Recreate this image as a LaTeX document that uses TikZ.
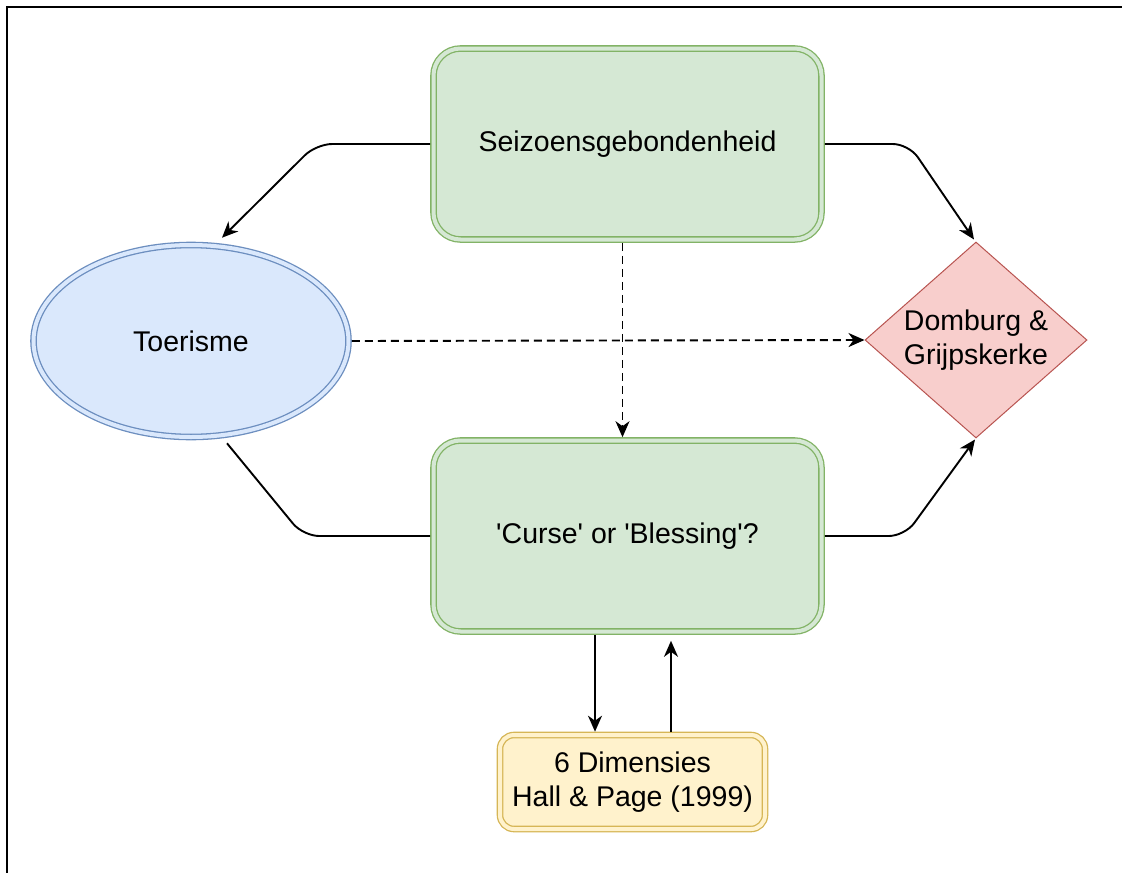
\documentclass[tikz,border=0pt]{standalone}
\usepackage{fontspec}
\setmainfont{Liberation Sans}[Ligatures=TeXOff]
\usetikzlibrary{shapes.geometric,arrows.meta}
\definecolor{gfill}{HTML}{D5E8D4}
\definecolor{gline}{HTML}{82B366}
\definecolor{bfill}{HTML}{DAE8FC}
\definecolor{bline}{HTML}{6C8EBF}
\definecolor{rfill}{HTML}{F8CECC}
\definecolor{rline}{HTML}{B85450}
\definecolor{yfill}{HTML}{FFF2CC}
\definecolor{yline}{HTML}{D6B656}
\begin{document}
\begin{tikzpicture}[x=1pt,y=-1pt,
  every node/.style={font=\fontsize{28.5}{34}\selectfont, inner sep=0pt},
  dbl/.style={line width=1.3pt, double distance=4pt, outer sep=3.3pt},
  greenbox/.style={dbl, draw=gline, double=gfill, fill=gfill, rounded corners=27pt, minimum width=388pt, minimum height=191pt},
  blueell/.style={dbl, ellipse, draw=bline, double=bfill, fill=bfill, minimum width=315pt, minimum height=192pt},
  yellowbox/.style={dbl, draw=yline, double=yfill, fill=yfill, rounded corners=14pt, minimum width=265pt, minimum height=94pt, align=center},
  diam/.style={diamond, draw=rline, fill=rfill, line width=1pt, minimum width=222pt, minimum height=196pt},
  conn/.style={line width=1.9pt, black, rounded corners=16pt},
  arr/.style={conn, -{Stealth[length=16pt,width=14pt,inset=5pt]}},
  dsh/.style={arr, dash pattern=on 8pt off 5pt}
]
\useasboundingbox (0,0) rectangle (1122,873);
\fill[white] (0,0) rectangle (1122,873);
\draw[line width=2.2pt] (1122,7) -- (7,7) -- (7,873);

\node[greenbox] (seiz) at (627.5,144) {Seizoensgebondenheid};
\node[greenbox] (curse) at (627.5,536) {'Curse' or 'Blessing'?};
\node[blueell] (toer) at (191,341) {Toerisme};
\node[diam] (dom) at (976,340) {};
\node[align=center] (domtxt) at (dom.center) {Domburg \&\\Grijpskerke};
\node[yellowbox] (dim) at (632.5,782) {6 Dimensies\\Hall \& Page (1999)};

\draw[arr] (seiz.west) -- ++(-114,0) -- ([xshift=31pt,yshift=4pt]toer.north);
\draw[arr] (seiz.east) -- ++(84,0) -- ([xshift=-2pt,yshift=2pt]dom.north);
\draw[arr] (curse.east) -- ++(80,0) -- ([xshift=-1pt,yshift=-1pt]dom.south);
\draw[conn] ([xshift=36pt,yshift=-3pt]toer.south) -- ([xshift=-127pt]curse.west) -- (curse.west);
\draw[dsh] ([xshift=-5pt]seiz.south) -- ([xshift=-5pt]curse.north);
\draw[dsh] (toer.east) -- (dom.west);
\draw[arr] ([xshift=-32.5pt]curse.south) -- ([xshift=-32.5pt]curse.south |- dim.north);
\draw[arr] ([xshift=38.5pt]dim.north) -- ([xshift=38.5pt,yshift=-6pt]dim.north |- curse.south);
\end{tikzpicture}
\end{document}
